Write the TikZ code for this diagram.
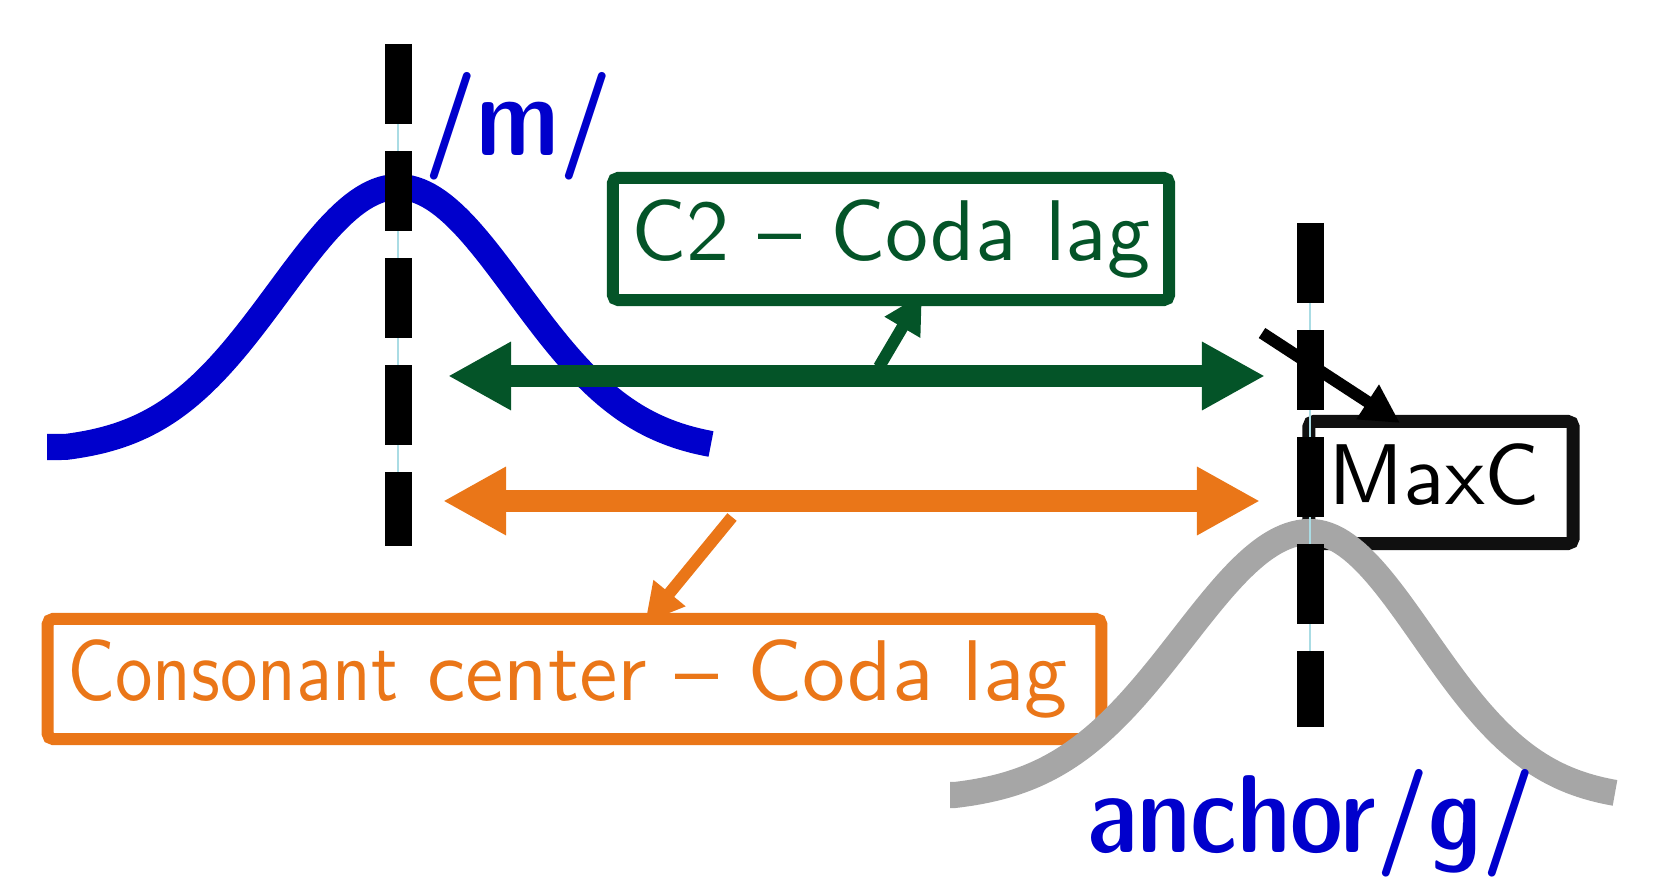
\documentclass[tikz,border=0pt]{standalone}
\usetikzlibrary{arrows.meta}
\definecolor{mblue}{RGB}{0,0,204}
\definecolor{cgreen}{RGB}{4,84,40}
\definecolor{corange}{RGB}{234,118,24}
\definecolor{cgray}{RGB}{166,166,166}
\definecolor{guide}{RGB}{170,220,228}
\definecolor{nearblack}{RGB}{16,16,16}
\newcommand\boxtext[1]{\scalebox{2.45}{\sffamily\fontsize{10}{12}\selectfont #1}}
\tikzset{
  gesture/.style={line width=7.4pt},
  marker/.style={line width=7.68pt, dash pattern=on 22.76pt off 7.68pt},
  guideline/.style={guide, line width=0.4pt},
  labelbox/.style={draw, line width=3.41pt, rounded corners=1.5pt, fill=white, inner sep=0pt},
  lag/.style={line width=5.98pt,
    {Triangle[length=17.93pt,width=18.2pt]}-{Triangle[length=17.93pt,width=18.2pt]}},
  pointer/.style={line width=3.41pt, -{Triangle[length=11pt,width=11pt]}},
  segtext/.style={mblue, inner sep=0pt, anchor=base,
    font=\sffamily\fontseries{sbc}\fontsize{31.5}{36}\selectfont},
}
\begin{document}
\begin{tikzpicture}[x=0.01cm,y=-0.01cm]
\useasboundingbox (0,0) rectangle (1664,886);
% anchor coordinates
\coordinate (mTop) at (398,44);
\coordinate (mBot) at (398,546);
\coordinate (gTop) at (1310,223);
\coordinate (gBot) at (1310,727);
\coordinate (c2L) at (448,376);
\coordinate (c2R) at (1265,376);
\coordinate (ccL) at (443,501);
\coordinate (ccR) at (1260,501);
\coordinate (c2From) at (879,367);
\coordinate (ccFrom) at (732,517);
\coordinate (ccTo) at (645,623);
\coordinate (maxFrom) at (1262,333);
\coordinate (maxTo) at (1400,423);
\coordinate (c2To) at (922,294);

% orange pointer (tip partly under the box border)
\draw[pointer, corange] (ccFrom) -- (ccTo);
% boxes
\node[labelbox, draw=corange, text=corange, minimum width=10.53cm, minimum height=1.2cm]
  (cc) at (574.5,679) {\boxtext{\scalebox{0.87}[1]{Consonant} center – Coda lag\kern1.6pt}};
\node[labelbox, draw=cgreen, text=cgreen, minimum width=5.56cm, minimum height=1.22cm]
  (c2) at (891,239) {\boxtext{C2 – Coda lag}};
\node[labelbox, draw=nearblack, text=black, line width=3.7pt, minimum width=2.64cm,
  minimum height=1.22cm]
  (maxc) at (1441,482.5) {\boxtext{\vphantom{g}MaxC\kern1.6pt}};

% gestures
\draw[gesture, mblue] plot[domain=47:711, samples=140]
  (\x, {447-260*max(0,(exp(-0.5*((\x-398)/119)*((\x-398)/119))-0.02)/0.98)});
\draw[gesture, cgray] plot[domain=950:1615, samples=140]
  (\x, {795-263*max(0,(exp(-0.5*((\x-1310)/((\x<1310)?127:114))*((\x-1310)/((\x<1310)?127:114)))-0.02)/0.98)});

% lags
\draw[lag, cgreen] (c2L) -- (c2R);
\draw[lag, corange] (ccL) -- (ccR);
\draw[pointer, cgreen] (c2From) -- (c2To);
\draw[pointer, black] (maxFrom) -- (maxTo);

% markers
\draw[guideline] (mTop) -- (mBot);
\draw[guideline] (gTop) -- (gBot);
\draw[marker] (mTop) -- (mBot);
\draw[marker] (gTop) -- (gBot);

% segment labels
\node[segtext] (mlab) at (518,156) {/m/};
\node[segtext] (glab) at (1311,853) {anchor/g/};
\end{tikzpicture}
\end{document}
